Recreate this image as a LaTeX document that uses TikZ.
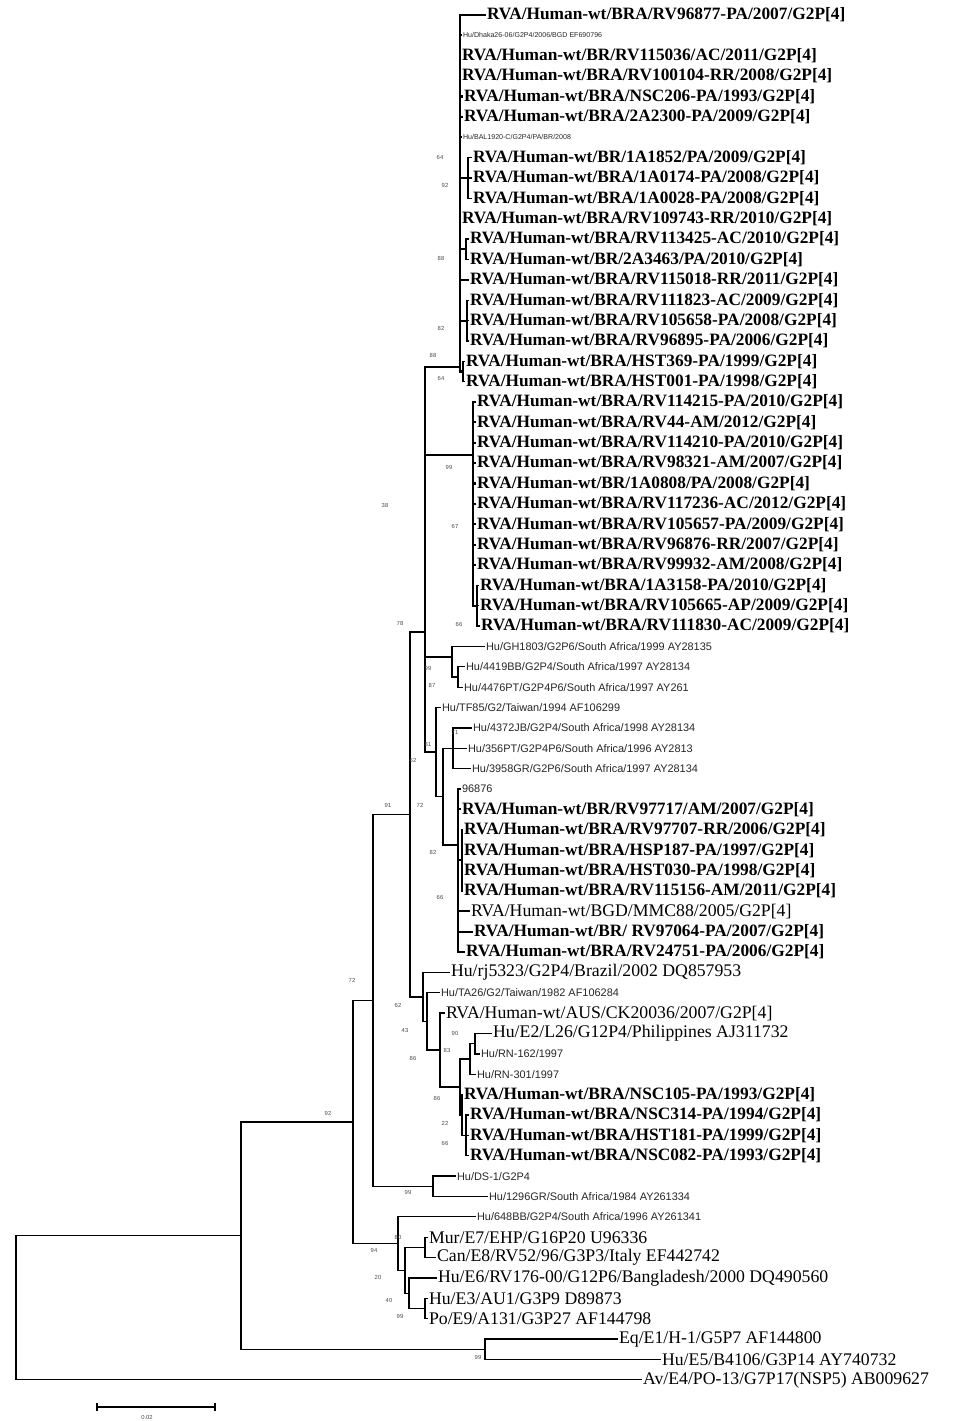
\documentclass[tikz,border=0pt]{standalone}
\usepackage{fontspec}
\setmainfont{Liberation Serif}
\newfontfamily\smallsans{Liberation Sans}
\begin{document}
\begin{tikzpicture}[x=0.75pt,y=-0.75pt]
\tikzset{
 br/.style={line width=0.95pt},
 thk/.style={line width=1.6pt},
 bl/.style={anchor=west,inner sep=0.6pt,font=\fontsize{13}{13}\selectfont\bfseries},
 rl/.style={anchor=west,inner sep=0.6pt,font=\fontsize{13.3}{13.3}\selectfont},
 sl/.style={anchor=west,inner sep=0.6pt,font=\smallsans\fontsize{8.2}{8.2}\selectfont,text=black!85},
 tl/.style={anchor=west,inner sep=0.6pt,font=\smallsans\fontsize{5.3}{5.3}\selectfont,text=black!85},
 bs/.style={inner sep=0pt,font=\smallsans\fontsize{4.4}{4.4}\selectfont,text=black!70}
}
\useasboundingbox (0,0) rectangle (958,1421);
% internal nodes
\coordinate (root) at (16,1307.7);
\coordinate (nP) at (241,1235.6);
\coordinate (nB) at (353,1122.0);
\coordinate (eqe5) at (485,1349.25);
\coordinate (g2) at (373,1000.4);
\coordinate (enode) at (398,1243.6);
\coordinate (e2) at (405,1270.3);
\coordinate (e3) at (409,1293.2);
\coordinate (murcan) at (425,1247.4);
\coordinate (hue3po) at (425,1308.5);
\coordinate (dsn) at (433,1186.3);
\coordinate (nA) at (410,814.4);
\coordinate (nC) at (425,632.0);
\coordinate (nX) at (425,511.8);
\coordinate (nR) at (423,996.9);
\coordinate (r2) at (427,1021.4);
\coordinate (r3) at (440,1050.1);
\coordinate (r4) at (460,1087.0);
\coordinate (n470) at (470,1059.0);
\coordinate (l26n) at (475,1043.7);
\coordinate (nsc) at (462,1115.0);
\coordinate (nscs) at (466,1135.4);
\coordinate (topbra) at (460,367);
\coordinate (s7) at (468,178.0);
\coordinate (s11) at (466,249.3);
\coordinate (s14) at (467,320.6);
\coordinate (s17) at (463,371.5);
\coordinate (botbra) at (473,455);
\coordinate (s28) at (477,605.7);
\coordinate (gh) at (452,656.65);
\coordinate (n4419) at (458,677.0);
\coordinate (tf) at (436,752.1);
\coordinate (n443) at (443,796.6);
\coordinate (sa3) at (453,748.3);
\coordinate (g96) at (458,845);
\coordinate (g96s) at (462,860.35);
% leaves
\node[bl] (l0) at (486,15.0) {RVA/Human-wt/BRA/RV96877-PA/2007/G2P[4]};
\node[tl] (l1) at (462,35.4) {Hu/Dhaka26-06/G2P4/2006/BGD EF690796};
\node[bl] (l2) at (461,55.7) {RVA/Human-wt/BR/RV115036/AC/2011/G2P[4]};
\node[bl] (l3) at (461,76.1) {RVA/Human-wt/BRA/RV100104-RR/2008/G2P[4]};
\node[bl] (l4) at (463,96.5) {RVA/Human-wt/BRA/NSC206-PA/1993/G2P[4]};
\node[bl] (l5) at (463,116.9) {RVA/Human-wt/BRA/2A2300-PA/2009/G2P[4]};
\node[tl] (l6) at (462,137.2) {Hu/BAL1920-C/G2P4/PA/BR/2008};
\node[bl] (l7) at (472,157.6) {RVA/Human-wt/BR/1A1852/PA/2009/G2P[4]};
\node[bl] (l8) at (472,178.0) {RVA/Human-wt/BRA/1A0174-PA/2008/G2P[4]};
\node[bl] (l9) at (472,198.3) {RVA/Human-wt/BRA/1A0028-PA/2008/G2P[4]};
\node[bl] (l10) at (461,218.7) {RVA/Human-wt/BRA/RV109743-RR/2010/G2P[4]};
\node[bl] (l11) at (469,239.1) {RVA/Human-wt/BRA/RV113425-AC/2010/G2P[4]};
\node[bl] (l12) at (469,259.4) {RVA/Human-wt/BR/2A3463/PA/2010/G2P[4]};
\node[bl] (l13) at (469,279.8) {RVA/Human-wt/BRA/RV115018-RR/2011/G2P[4]};
\node[bl] (l14) at (469,300.2) {RVA/Human-wt/BRA/RV111823-AC/2009/G2P[4]};
\node[bl] (l15) at (469,320.6) {RVA/Human-wt/BRA/RV105658-PA/2008/G2P[4]};
\node[bl] (l16) at (469,340.9) {RVA/Human-wt/BRA/RV96895-PA/2006/G2P[4]};
\node[bl] (l17) at (465,361.3) {RVA/Human-wt/BRA/HST369-PA/1999/G2P[4]};
\node[bl] (l18) at (465,381.7) {RVA/Human-wt/BRA/HST001-PA/1998/G2P[4]};
\node[bl] (l19) at (476,402.0) {RVA/Human-wt/BRA/RV114215-PA/2010/G2P[4]};
\node[bl] (l20) at (476,422.4) {RVA/Human-wt/BRA/RV44-AM/2012/G2P[4]};
\node[bl] (l21) at (476,442.8) {RVA/Human-wt/BRA/RV114210-PA/2010/G2P[4]};
\node[bl] (l22) at (476,463.1) {RVA/Human-wt/BRA/RV98321-AM/2007/G2P[4]};
\node[bl] (l23) at (476,483.5) {RVA/Human-wt/BR/1A0808/PA/2008/G2P[4]};
\node[bl] (l24) at (476,503.9) {RVA/Human-wt/BRA/RV117236-AC/2012/G2P[4]};
\node[bl] (l25) at (476,524.3) {RVA/Human-wt/BRA/RV105657-PA/2009/G2P[4]};
\node[bl] (l26) at (476,544.6) {RVA/Human-wt/BRA/RV96876-RR/2007/G2P[4]};
\node[bl] (l27) at (476,565.0) {RVA/Human-wt/BRA/RV99932-AM/2008/G2P[4]};
\node[bl] (l28) at (479,585.4) {RVA/Human-wt/BRA/1A3158-PA/2010/G2P[4]};
\node[bl] (l29) at (479,605.7) {RVA/Human-wt/BRA/RV105665-AP/2009/G2P[4]};
\node[bl] (l30) at (480,626.1) {RVA/Human-wt/BRA/RV111830-AC/2009/G2P[4]};
\node[sl] (l31) at (485,646.5) {Hu/GH1803/G2P6/South Africa/1999 AY28135};
\node[sl] (l32) at (465,666.8) {Hu/4419BB/G2P4/South Africa/1997 AY28134};
\node[sl] (l33) at (463,687.2) {Hu/4476PT/G2P4P6/South Africa/1997 AY261};
\node[sl] (l34) at (441,707.6) {Hu/TF85/G2/Taiwan/1994 AF106299};
\node[sl] (l35) at (472,728.0) {Hu/4372JB/G2P4/South Africa/1998 AY28134};
\node[sl] (l36) at (467,748.3) {Hu/356PT/G2P4P6/South Africa/1996 AY2813};
\node[sl] (l37) at (471,768.7) {Hu/3958GR/G2P6/South Africa/1997 AY28134};
\node[sl] (l38) at (461,789.1) {96876};
\node[bl] (l39) at (461,809.4) {RVA/Human-wt/BR/RV97717/AM/2007/G2P[4]};
\node[bl] (l40) at (463,829.8) {RVA/Human-wt/BRA/RV97707-RR/2006/G2P[4]};
\node[bl] (l41) at (463,850.2) {RVA/Human-wt/BRA/HSP187-PA/1997/G2P[4]};
\node[bl] (l42) at (463,870.5) {RVA/Human-wt/BRA/HST030-PA/1998/G2P[4]};
\node[bl] (l43) at (463,890.9) {RVA/Human-wt/BRA/RV115156-AM/2011/G2P[4]};
\node[rl] (l44) at (470,911.3) {RVA/Human-wt/BGD/MMC88/2005/G2P[4]};
\node[bl] (l45) at (473,931.7) {RVA/Human-wt/BR/ RV97064-PA/2007/G2P[4]};
\node[bl] (l46) at (465,952.0) {RVA/Human-wt/BRA/RV24751-PA/2006/G2P[4]};
\node[rl] (l47) at (450,972.4) {Hu/rj5323/G2P4/Brazil/2002 DQ857953};
\node[sl] (l48) at (440,992.8) {Hu/TA26/G2/Taiwan/1982 AF106284};
\node[rl] (l49) at (445,1013.1) {RVA/Human-wt/AUS/CK20036/2007/G2P[4]};
\node[rl] (l50) at (492,1033.5) {Hu/E2/L26/G12P4/Philippines AJ311732};
\node[sl] (l51) at (480,1053.9) {Hu/RN-162/1997};
\node[sl] (l52) at (476,1074.2) {Hu/RN-301/1997};
\node[bl] (l53) at (463,1094.6) {RVA/Human-wt/BRA/NSC105-PA/1993/G2P[4]};
\node[bl] (l54) at (469,1115.0) {RVA/Human-wt/BRA/NSC314-PA/1994/G2P[4]};
\node[bl] (l55) at (469,1135.4) {RVA/Human-wt/BRA/HST181-PA/1999/G2P[4]};
\node[bl] (l56) at (469,1155.7) {RVA/Human-wt/BRA/NSC082-PA/1993/G2P[4]};
\node[sl] (l57) at (456,1176.1) {Hu/DS-1/G2P4};
\node[sl] (l58) at (488,1196.5) {Hu/1296GR/South Africa/1984 AY261334};
\node[sl] (l59) at (476,1216.8) {Hu/648BB/G2P4/South Africa/1996 AY261341};
\node[rl] (l60) at (428,1237.2) {Mur/E7/EHP/G16P20 U96336};
\node[rl] (l61) at (436,1257.6) {Can/E8/RV52/96/G3P3/Italy EF442742};
\node[rl] (l62) at (437,1277.9) {Hu/E6/RV176-00/G12P6/Bangladesh/2000 DQ490560};
\node[rl] (l63) at (428,1298.3) {Hu/E3/AU1/G3P9 D89873};
\node[rl] (l64) at (428,1318.7) {Po/E9/A131/G3P27 AF144798};
\node[rl] (l65) at (618,1339.1) {Eq/E1/H-1/G5P7 AF144800};
\node[rl] (l66) at (661,1359.4) {Hu/E5/B4106/G3P14 AY740732};
\node[rl] (l67) at (642,1379.8) {Av/E4/PO-13/G7P17(NSP5) AB009627};
% internal edges
\foreach \p/\c in {root/nP,nP/nB,nP/eqe5,nB/g2,nB/enode,enode/e2,e2/murcan,e2/e3,e3/hue3po,
  g2/nA,g2/dsn,nA/nC,nA/nR,nC/tf,gh/n4419,tf/n443,n443/sa3,n443/g96,
  nR/r2,r2/r3,r3/r4,r4/n470,r4/nsc,n470/l26n,nsc/nscs}
  \draw[br] (\p) |- (\c);
\foreach \p/\c in {nC/nX,nX/topbra,nX/botbra,nX/gh,topbra/s7,topbra/s11,topbra/s14,topbra/s17,botbra/s28,g96/g96s}
  \draw[thk] (\p) |- (\c);
% leaf edges
\foreach \p/\c in {topbra/l0,topbra/l1,topbra/l2,topbra/l3,topbra/l4,topbra/l5,topbra/l6,topbra/l10,topbra/l13,
  botbra/l19,botbra/l20,botbra/l21,botbra/l22,botbra/l23,botbra/l24,botbra/l25,botbra/l26,botbra/l27,
  g96/l38,g96/l39,g96/l44,g96/l45,g96/l46}
  \draw[thk] (\p) |- (\c.west);
\foreach \p/\c in {s7/l7,s7/l8,s7/l9,s11/l11,s11/l12,s14/l14,s14/l15,s14/l16,s17/l17,s17/l18,
  s28/l28,s28/l29,s28/l30,gh/l31,n4419/l32,n4419/l33,tf/l34,sa3/l35,sa3/l36,sa3/l37,
  g96s/l40,g96s/l41,g96s/l42,g96s/l43,nR/l47,r2/l48,r3/l49,l26n/l50,l26n/l51,n470/l52,
  nsc/l53,nscs/l54,nscs/l55,nscs/l56,dsn/l57,dsn/l58,enode/l59,murcan/l60,murcan/l61,
  e3/l62,hue3po/l63,hue3po/l64,eqe5/l65,eqe5/l66,root/l67}
  \draw[br] (\p) |- (\c.west);
% bootstrap values
\foreach \xx/\yy/\t [count=\i] in {433/355/88,440/157/64,445/185/92,441/258/88,441/328/82,441/378/64,
  449/467/99,455/526/67,459/624/66,385/505/38,400/623/78,428/668/99,432/685/87,413/760/62,
  428/744/81,455/732/71,420/805/72,388/805/91,433/852/82,440/897/66,352/980/72,328/1113/92,
  398/1005/62,405/1030/43,413/1058/86,455/1033/90,447/1050/83,437/1098/86,445/1123/22,
  445/1143/66,408/1192/99,374/1250/94,398/1237/80,378/1277/20,389/1300/40,400/1316/99,478/1357/99}
  \node[bs] (bs\i) at (\xx,\yy) {\t};
% scale bar
\coordinate (sbl) at (97,1407);
\coordinate (sbr) at (215,1407);
\draw[br] (sbl) -- (sbr);
\draw[br] ([yshift=3pt]sbl) -- ([yshift=-3pt]sbl);
\draw[br] ([yshift=3pt]sbr) -- ([yshift=-3pt]sbr);
\node[bs] (sblab) at (147,1417) {0.02};
\end{tikzpicture}
\end{document}
